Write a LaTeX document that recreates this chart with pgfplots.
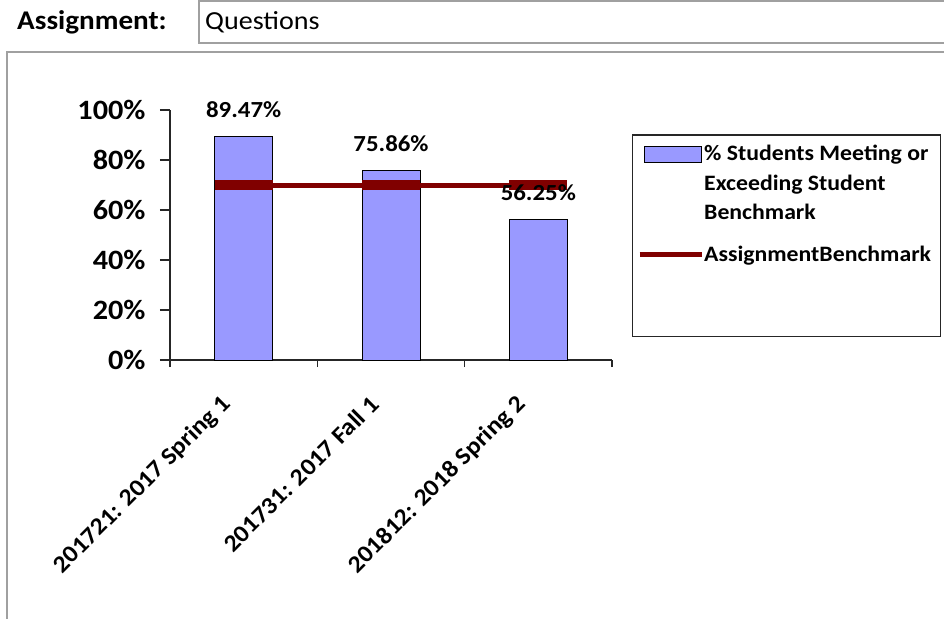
\documentclass[border=0pt]{standalone}
\usepackage{fontspec}
\setmainfont{Carlito}[FakeStretch=1.08]
\usepackage{pgfplots}
\pgfplotsset{compat=1.18}
\usepackage{pgfplotstable}
\definecolor{barblue}{HTML}{9999FF}
\definecolor{benchred}{HTML}{800000}
\definecolor{framegray}{HTML}{A0A0A0}

% % students meeting or exceeding the student benchmark, per term
\pgfplotstableread{
x y
0 89.47
1 75.86
2 56.25
}\passrate

\begin{document}
\begin{tikzpicture}
% page = 944 x 618, axis box lower left sits at (170,258) of it
\path[use as bounding box] (-170pt,-258pt) rectangle (774pt,360pt);
\begin{scope}[x=1pt, y=1pt, shift={(-170pt,-258pt)}]
  \clip (0,0) rectangle (944,618);
  % header line
  \node[anchor=base west, inner sep=0, font=\bfseries\fontsize{27}{31}\selectfont] at (17,588) {Assignment:};
  \draw[framegray, line width=1.5] (199,617) rectangle (960,575);
  \node[anchor=base west, inner sep=0, font=\fontsize{26}{30}\selectfont] at (205,588) {Questions};
  % chart panel
  \draw[framegray, line width=2] (7,-10) -- (7,566) -- (960,566);
  % legend frame
  \draw[black!85, line width=1.5] (632.7,483) rectangle (940.7,281.3);
\end{scope}

\begin{axis}[
  anchor=south west, at={(0pt,0pt)},
  scale only axis, width=442pt, height=250pt,
  xmin=-0.5, xmax=2.5, ymin=0, ymax=100,
  axis x line*=bottom, axis y line*=left,
  axis line style={black!85, line width=1.5pt},
  xtick={0,1,2},
  xticklabels={201721: 2017 Spring 1, 201731: 2017 Fall 1, 201812: 2018 Spring 2},
  minor xtick={-0.5,0.5,1.5,2.5},
  ytick={0,20,40,60,80,100},
  yticklabels={0\%,20\%,40\%,60\%,80\%,100\%},
  tick align=outside, major tick length=10pt, minor tick length=7pt,
  tick style={black!85, line width=1.5pt},
  major x tick style={draw=none},
  yticklabel style={font=\bfseries\fontsize{28}{32}\selectfont, xshift=-11pt},
  xticklabel style={font=\bfseries\fontsize{24}{28}\selectfont, xshift=-14pt, yshift=-28pt, rotate=45, anchor=east},
  legend style={at={(1,1)}, anchor=north west, xshift=30pt, yshift=-33pt,
    draw=none, fill=none, inner sep=0pt, row sep=21pt, column sep=-2pt,
    font=\bfseries\fontsize{22}{29.5}\selectfont, cells={align=left}},
  legend cell align=left,
]
\addplot[ybar, bar width=58pt, bar shift=0pt, fill=barblue, draw=black, line width=1pt,
  legend image code/.code={\draw[fill=barblue, draw=black, line width=1pt] (0pt,21pt) rectangle (57pt,37pt);}]
  table[x=x, y=y] {\passrate};
\addlegendentry{\% Students Meeting or\\Exceeding Student\\Benchmark}
\addplot[benchred, line width=5pt, mark=-, mark size=29pt, mark options={line width=10pt},
  legend image code/.code={\path (0pt,0pt) -- (57pt,0pt);
    \draw[overlay, benchred, line width=5pt] (-5pt,0pt) -- (57pt,0pt);}]
  coordinates {(0,70) (1,70) (2,70)};
\addlegendentry{AssignmentBenchmark}
% value labels, drawn last so they sit over the benchmark line
\addplot[ybar, bar width=58pt, bar shift=0pt, draw=none, fill=none, forget plot,
  nodes near coords={\pgfmathprintnumber[fixed, fixed zerofill, precision=2, assume math mode=true]{\pgfplotspointmeta}\%},
  nodes near coords style={font=\bfseries\fontsize{23}{27}\selectfont, text=black, anchor=south, yshift=15pt}]
  table[x=x, y=y] {\passrate};
\end{axis}
\end{tikzpicture}
\end{document}
